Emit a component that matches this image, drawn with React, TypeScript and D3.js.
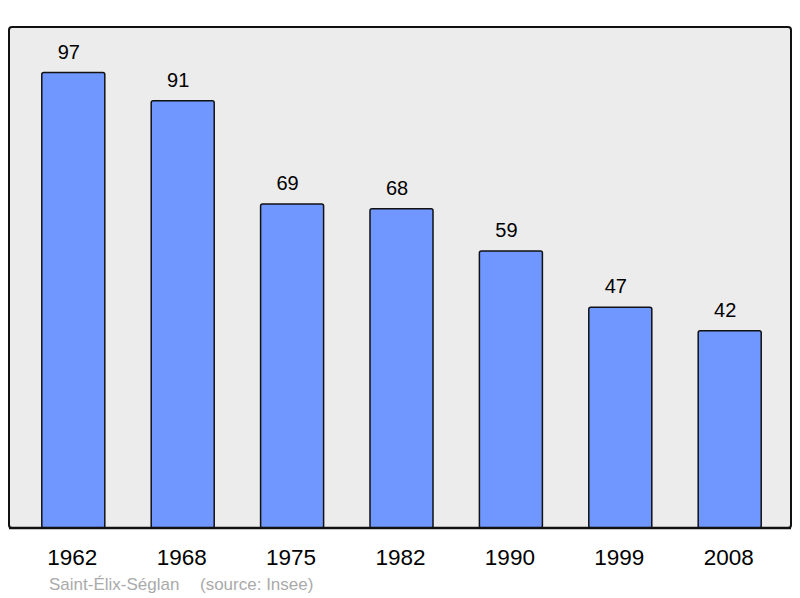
import React from 'react';
import * as d3 from 'd3';

const years = ['1962', '1968', '1975', '1982', '1990', '1999', '2008'];
const population = [97, 91, 69, 68, 59, 47, 42];
const townName = 'Saint-Élix-Séglan';
const sourceNote = '(source: Insee)';

const W = 800;
const H = 598;
const panel = { left: 9, top: 27, right: 791, bottom: 528 };

const App: React.FC = () => {
  const x = d3.scaleBand<string>()
    .domain(years)
    .range([18.6, 784.4])
    .paddingInner(0.424)
    .paddingOuter(0.212);

  const y = d3.scaleLinear()
    .domain([0, (d3.max(population) ?? 0) * 1.1])
    .range([panel.bottom, panel.top]);

  const font = '"Liberation Sans", Arial, sans-serif';

  return (
    <svg width={W} height={H} style={{ position: 'absolute', left: 0, top: 0 }} fontFamily={font}>
      <rect x={0} y={0} width={W} height={H} fill="#ffffff" />
      <rect
        x={panel.left}
        y={panel.top}
        width={panel.right - panel.left}
        height={panel.bottom - panel.top}
        rx={3}
        fill="#ececec"
        stroke="#111"
        strokeWidth={2}
      />
      {years.map((yr, i) => {
        const bx = x(yr) ?? 0;
        const cx = bx + x.bandwidth() / 2;
        const top = y(population[i]);
        return (
          <g key={yr}>
            <rect
              x={bx}
              y={top}
              width={x.bandwidth()}
              height={panel.bottom - top}
              rx={2}
              fill="#7097ff"
              stroke="#111"
              strokeWidth={1.5}
            />
            {/* value labels sit a little left of the bar centre */}
            <text x={cx - 4.5} y={top - 14} textAnchor="middle" fontSize={20} fill="#000">
              {population[i]}
            </text>
            <text x={cx - 1} y={565} textAnchor="middle" fontSize={22.5} fill="#000">
              {yr}
            </text>
          </g>
        );
      })}
      <line x1={panel.left} x2={panel.right} y1={panel.bottom} y2={panel.bottom} stroke="#111" strokeWidth={2.5} />
      <text x={49} y={590} fontSize={17} fill="#aaaaaa">{townName}</text>
      <text x={200} y={590} fontSize={17} fill="#aaaaaa">{sourceNote}</text>
    </svg>
  );
};

export default App;
